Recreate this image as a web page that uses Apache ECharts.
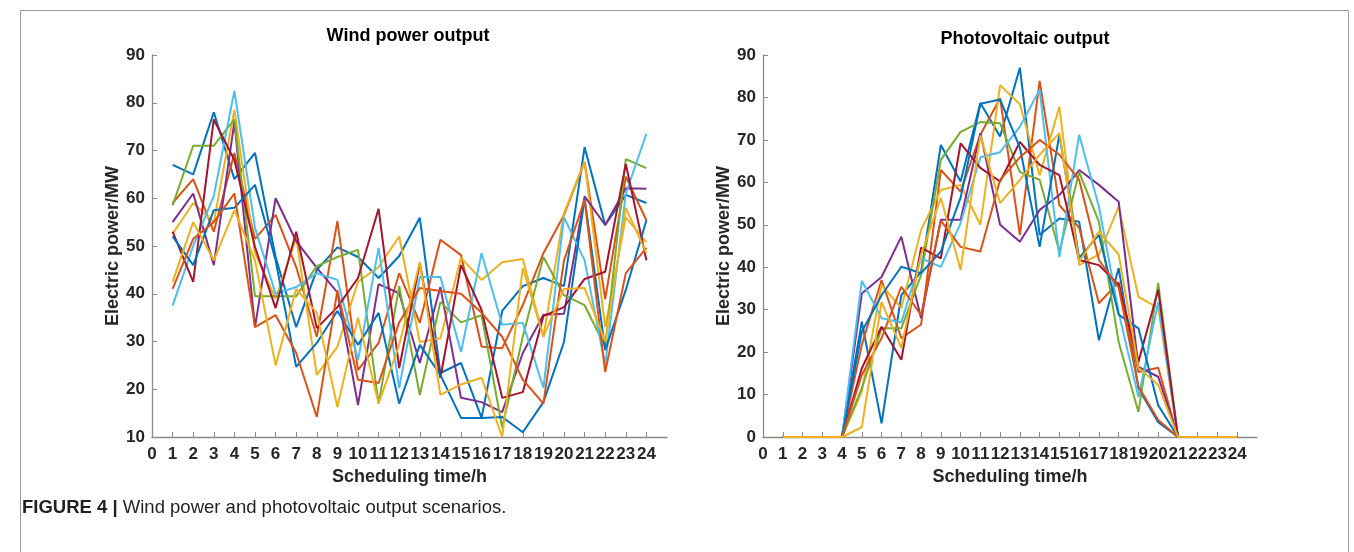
<!DOCTYPE html>
<html>
<head>
<meta charset="utf-8">
<script src="https://cdn.jsdelivr.net/npm/echarts@6/dist/echarts.min.js"></script>
<style>
  html, body { margin: 0; padding: 0; background: #fff; }
  #main { width: 1354px; height: 552px; }
</style>
</head>
<body>
<div id="main"></div>
<script>
// hours 1..24
const hours = [1, 2, 3, 4, 5, 6, 7, 8, 9, 10, 11, 12, 13, 14, 15, 16, 17, 18, 19, 20, 21, 22, 23, 24];
const xTicks = [0, 1, 2, 3, 4, 5, 6, 7, 8, 9, 10, 11, 12, 13, 14, 15, 16, 17, 18, 19, 20, 21, 22, 23, 24];

// MATLAB default line colours
const colors = ["#0072BD", "#D95319", "#EDB120", "#7E2F8E", "#77AC30", "#4DBEEE", "#A2142F"];

// wind power scenarios (MW)
const wind1 = [67, 65, 78, 64, 69.5, 47.7, 33, 45, 49.7, 47.7, 43.3, 47.9, 55.9, 23.4, 25.5, 14, 36.4, 41.6, 43.3, 41.6, 70.7, 54.4, 60.7, 59];
const wind2 = [59, 64, 53, 69.5, 51.5, 56.5, 45.6, 31, 55.2, 24, 29.7, 44.3, 33.9, 51.3, 48.1, 28.9, 28.6, 37.6, 48.5, 56.5, 67.6, 38.9, 64.5, 55.4];
const wind3 = [52.5, 59, 55, 78.5, 48.5, 39, 51.7, 23, 28.9, 42.5, 45.6, 52, 29.9, 30.7, 47.5, 42.9, 46.6, 47.3, 31, 56.9, 67.6, 33, 56, 50.8];
const wind4 = [55, 61, 46, 76, 33, 60, 51, 45.4, 40.3, 16.7, 42, 40.1, 25.5, 41.4, 18.2, 17.3, 15.2, 27.6, 35.6, 35.8, 60.4, 54.4, 62.1, 62];
const wind5 = [58.5, 71, 71, 76.5, 39.5, 39.5, 39.5, 45.8, 47.7, 49.2, 17, 41.6, 18.8, 38.3, 34, 35.5, 12, 31, 47.7, 39.7, 37.6, 28.9, 68.2, 66.3];
const wind6 = [37.5, 50, 60.5, 82.5, 53.8, 40, 41.4, 44.3, 42.9, 26.1, 49.6, 20.3, 43.5, 43.5, 27.8, 48.5, 33.5, 33.9, 20.3, 56, 47, 25, 61, 73.5];
const wind7 = [53, 42.5, 76.5, 68, 49.8, 37, 53, 32.8, 37.2, 43.3, 57.8, 24.4, 46.4, 22.4, 46, 36.6, 18.2, 19.4, 35.3, 37.2, 43.1, 44.6, 67.2, 47];
const wind8 = [52, 46, 57.5, 58, 62.8, 47, 24.7, 29.7, 36.4, 29.3, 36, 17, 29.3, 23, 14, 14, 14.2, 11, 17.3, 29.9, 60, 28.2, 40.8, 55.4];
const wind9 = [41, 51.5, 55, 61, 33, 35.5, 27.6, 14.2, 40.7, 22, 21.3, 34, 41.2, 40.6, 40, 36, 31, 22, 17, 47, 59.6, 23.6, 44.3, 49.6];
const wind10 = [42.5, 55, 47, 57.5, 47, 25, 41, 36, 16.3, 35, 17, 29.3, 46.6, 18.8, 21, 22.4, 10, 45.4, 31, 41, 41.2, 30, 58, 48.5];

// photovoltaic scenarios (MW)
const pv1 = [0, 0, 0, 0, 27.2, 3.2, 33.4, 38.9, 68.8, 60.2, 78.7, 70.8, 87, 47.6, 51.5, 50.7, 22.8, 39.8, 11.5, 3.5, 0, 0, 0, 0];
const pv2 = [0, 0, 0, 0, 21.7, 37, 23.3, 26.5, 62.9, 57.8, 71.2, 79.8, 47.6, 83.9, 54.6, 49.3, 31.5, 36.5, 15.3, 16.3, 0, 0, 0, 0];
const pv3 = [0, 0, 0, 0, 10.7, 35.8, 30.4, 48.8, 58.2, 59.4, 50, 82.9, 78.4, 61.7, 77.8, 40.5, 43, 54.3, 33, 30.4, 0, 0, 0, 0];
const pv4 = [0, 0, 0, 0, 33.8, 37.7, 47.2, 28, 51.2, 51.2, 71.6, 50, 46, 53.5, 57, 62.9, 59.4, 55.4, 16.5, 14.2, 0, 0, 0, 0];
const pv5 = [0, 0, 0, 0, 11.5, 25.6, 25.6, 38.2, 65.3, 71.9, 74.2, 73.9, 62.4, 60.6, 43.7, 62.4, 50.7, 22.4, 5.9, 36.3, 0, 0, 0, 0];
const pv6 = [0, 0, 0, 0, 36.8, 28, 27, 42.1, 40.1, 50.4, 65.9, 67.1, 73.1, 81.8, 42.4, 71.2, 54.3, 29.4, 9.4, 31.8, 0, 0, 0, 0];
const pv7 = [0, 0, 0, 0, 16.2, 26, 18.2, 44.6, 42.1, 69.2, 63.4, 60.2, 69.5, 64.1, 61.7, 41.7, 40.5, 35.8, 17.7, 34.7, 0, 0, 0, 0];
const pv8 = [0, 0, 0, 0, 24.8, 33.4, 40.1, 38.6, 43.7, 56.4, 78.5, 79.5, 68.2, 44.8, 71.2, 42.2, 47.6, 28.8, 25.6, 7.5, 0, 0, 0, 0];
const pv9 = [0, 0, 0, 0, 14.6, 23.3, 35.4, 28.7, 51, 44.8, 43.7, 60.6, 65.9, 70, 66.5, 60.6, 41.7, 35.2, 11.9, 4, 0, 0, 0, 0];
const pv10 = [0, 0, 0, 0, 2.3, 31.8, 21, 43, 56.3, 39.4, 71, 55.1, 60.6, 66.5, 71.6, 41.3, 48.4, 43, 16.3, 12.3, 0, 0, 0, 0];

const windSets = [wind1, wind2, wind3, wind4, wind5, wind6, wind7, wind8, wind9, wind10];
const pvSets = [pv1, pv2, pv3, pv4, pv5, pv6, pv7, pv8, pv9, pv10];

const FONT = "Liberation Sans, Arial, sans-serif";
const TXT = "#262626";

function makeX(gridIndex) {
  return {
    type: "value",
    gridIndex: gridIndex,
    min: 0,
    max: 25,
    interval: 1,
    name: "Scheduling time/h",
    nameLocation: "middle",
    nameGap: 31,
    nameTextStyle: { fontFamily: FONT, fontSize: 18, fontWeight: "bold", color: TXT },
    splitLine: { show: false },
    axisLine: { lineStyle: { color: "#8a8a8a", width: 1.3 } },
    axisTick: { inside: true, length: 5, lineStyle: { color: "#8a8a8a" }, customValues: xTicks },
    axisLabel: {
      margin: 9,
      fontFamily: FONT,
      fontSize: 17,
      fontWeight: "bold",
      color: TXT,
      customValues: xTicks,
    },
  };
}

function makeY(gridIndex, min) {
  return {
    type: "value",
    gridIndex: gridIndex,
    min: min,
    max: 90,
    interval: 10,
    name: "Electric power/MW",
    nameLocation: "middle",
    nameGap: 30,
    nameTextStyle: { fontFamily: FONT, fontSize: 18, fontWeight: "bold", color: TXT },
    splitLine: { show: false },
    axisLine: { show: true, lineStyle: { color: "#8a8a8a", width: 1.3 } },
    axisTick: { show: true, inside: true, length: 5, lineStyle: { color: "#8a8a8a" } },
    axisLabel: { margin: 7, fontFamily: FONT, fontSize: 17, fontWeight: "bold", color: TXT },
  };
}

function makeSeries(sets, idx) {
  return sets.map((vals, i) => ({
    type: "line",
    xAxisIndex: idx,
    yAxisIndex: idx,
    data: hours.map((h, k) => [h, vals[k]]),
    symbol: "none",
    lineStyle: { width: 2, color: colors[i % colors.length] },
    animation: false,
    silent: true,
  }));
}

const myChart = echarts.init(document.getElementById("main"), null, { renderer: "canvas" });

myChart.setOption({
  backgroundColor: "#fff",
  animation: false,
  title: [
    {
      text: "Wind power output",
      left: 403,
      top: 22,
      textAlign: "center",
      textStyle: { fontFamily: FONT, fontSize: 18, fontWeight: "bold", color: "#000" },
    },
    {
      text: "Photovoltaic output",
      left: 1020,
      top: 25,
      textAlign: "center",
      textStyle: { fontFamily: FONT, fontSize: 18, fontWeight: "bold", color: "#000" },
    },
  ],
  grid: [
    { left: 152, top: 55, width: 515, height: 382 },
    { left: 763, top: 55, width: 494, height: 382 },
  ],
  xAxis: [makeX(0), makeX(1)],
  yAxis: [makeY(0, 10), makeY(1, 0)],
  series: makeSeries(windSets, 0).concat(makeSeries(pvSets, 1)),
  // frame + caption
  graphic: [
    {
      type: "rect",
      shape: { x: 20.5, y: 10.5, width: 1328, height: 600 },
      style: { fill: "none", stroke: "#9a9a9a", lineWidth: 1 },
      silent: true,
    },
    {
      type: "text",
      left: 22,
      top: 498,
      style: {
        text: "{b|FIGURE 4 |} Wind power and photovoltaic output scenarios.",
        fontFamily: FONT,
        fontSize: 18.5,
        fill: "#231f20",
        rich: {
          b: { fontFamily: FONT, fontSize: 18.5, fontWeight: "bold", fill: "#231f20" },
        },
      },
    },
  ],
});
</script>
</body>
</html>
